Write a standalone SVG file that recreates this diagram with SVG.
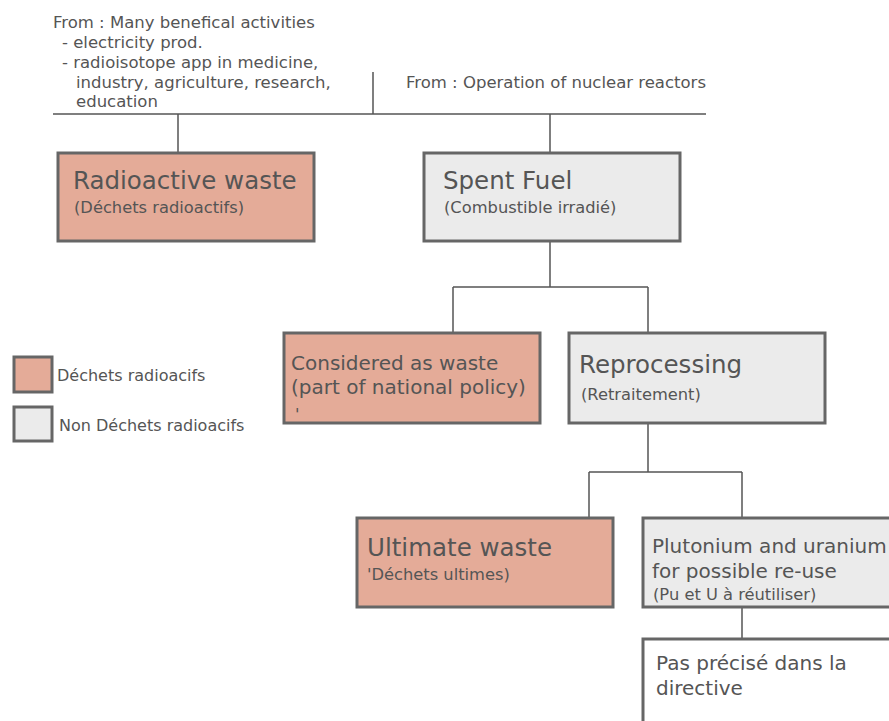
<svg xmlns="http://www.w3.org/2000/svg" width="889" height="721" viewBox="0 0 889 721">
<style>
text{font-family:"DejaVu Sans","Noto Sans",sans-serif;fill:#555;}
.box{stroke:#666;stroke-width:3;}
.w{fill:#e4ab98;}
.n{fill:#ebebeb;}
.wh{fill:#fff;}
.t1{font-size:24.5px;}
.t2{font-size:20px;}
.s{font-size:16.3px;}
.top{font-size:16.5px;}
.lg{font-size:16px;}
.conn line{stroke:#555;stroke-width:1.5;}
</style>
<rect width="889" height="721" fill="#fff"/>
<g id="source-text">
<text class="top" x="53" y="28">From : Many benefical activities</text>
<text class="top" x="62" y="48">- electricity prod.</text>
<text class="top" x="62" y="68">- radioisotope app in medicine,</text>
<text class="top" x="76" y="88">industry, agriculture, research,</text>
<text class="top" x="76" y="107">education</text>
<text class="top" x="406" y="88">From : Operation of nuclear reactors</text>
</g>
<g class="conn" id="connectors">
<line x1="53" y1="114" x2="706" y2="114"/>
<line x1="373" y1="72" x2="373" y2="114"/>
<line x1="178" y1="114" x2="178" y2="153"/>
<line x1="550" y1="114" x2="550" y2="153"/>
<line x1="550" y1="241" x2="550" y2="287"/>
<line x1="453" y1="287" x2="648" y2="287"/>
<line x1="453" y1="287" x2="453" y2="333"/>
<line x1="648" y1="287" x2="648" y2="333"/>
<line x1="648" y1="423" x2="648" y2="472"/>
<line x1="589" y1="472" x2="742" y2="472"/>
<line x1="589" y1="472" x2="589" y2="518"/>
<line x1="742" y1="472" x2="742" y2="518"/>
<line x1="742" y1="607" x2="742" y2="639"/>
</g>
<g id="radioactive-waste">
<rect class="box w" x="58" y="153" width="256" height="88"/>
<text class="t1" x="73" y="189">Radioactive waste</text>
<text class="s" x="74" y="213">(Déchets radioactifs)</text>
</g>
<g id="spent-fuel">
<rect class="box n" x="424" y="153" width="256" height="88"/>
<text class="t1" x="443" y="189">Spent Fuel</text>
<text class="s" x="444" y="213">(Combustible irradié)</text>
</g>
<g id="considered-waste">
<rect class="box w" x="284" y="333" width="256" height="90"/>
<text class="t2" x="291" y="370">Considered as waste</text>
<text class="t2" x="291" y="394">(part of national policy)</text>
<text class="s" x="295" y="420">'</text>
</g>
<g id="reprocessing">
<rect class="box n" x="569" y="333" width="256" height="90"/>
<text class="t1" x="579" y="373">Reprocessing</text>
<text class="s" x="581" y="400">(Retraitement)</text>
</g>
<g id="ultimate-waste">
<rect class="box w" x="357" y="518" width="256" height="89"/>
<text class="t1" x="367" y="556">Ultimate waste</text>
<text class="s" x="367" y="580">'Déchets ultimes)</text>
</g>
<g id="plutonium-uranium">
<rect class="box n" x="643" y="518" width="256" height="89"/>
<text class="t2" x="652" y="553">Plutonium and uranium</text>
<text class="t2" x="652" y="578">for possible re-use</text>
<text class="s" x="653" y="600">(Pu et U à réutiliser)</text>
</g>
<g id="pas-precise">
<rect class="box wh" x="643" y="639" width="256" height="100"/>
<text class="t2" x="656" y="670">Pas précisé dans la</text>
<text class="t2" x="656" y="695">directive</text>
</g>
<g id="legend">
<rect class="box w" x="14" y="357" width="38" height="35"/>
<text class="lg" x="57" y="381">Déchets radioacifs</text>
<rect class="box n" x="14" y="407" width="38" height="34"/>
<text class="lg" x="59" y="431">Non Déchets radioacifs</text>
</g>
</svg>
